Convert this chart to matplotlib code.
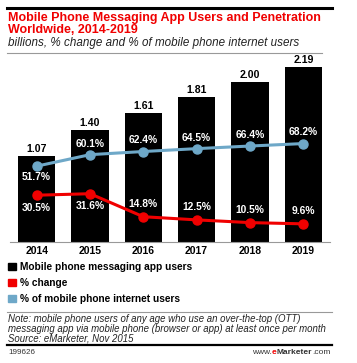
import matplotlib.pyplot as plt
from matplotlib.lines import Line2D

# chart data
years = ['2014', '2015', '2016', '2017', '2018', '2019']
users = [1.07, 1.40, 1.61, 1.81, 2.00, 2.19]          # billions
pct_change = [30.5, 31.6, 14.8, 12.5, 10.5, 9.6]      # % change
pct_internet = [51.7, 60.1, 62.4, 64.5, 66.4, 68.2]   # % of mobile phone internet users

red = '#f00000'
blue = '#6ea8c8'
W, H = 357, 363

plt.rcParams['font.family'] = ['Liberation Sans', 'DejaVu Sans']
fig = plt.figure(figsize=(W / 100, H / 100), dpi=100)


def fx(x):
    return x / W


def fy(y):
    return 1 - y / H


def hline(y, x0, x1, color, lw):
    fig.add_artist(Line2D([fx(x0), fx(x1)], [fy(y), fy(y)], color=color, lw=lw,
                          transform=fig.transFigure))


# header
hline(7.5, 7, 332, 'black', 2.2)
fig.text(fx(8), fy(18), 'Mobile Phone Messaging App Users and Penetration',
         color=red, fontsize=9.0, fontweight='bold', va='center')
fig.text(fx(8), fy(30), 'Worldwide, 2014-2019', color=red, fontsize=9.0,
         fontweight='bold', va='center')
fig.text(fx(8), fy(43), 'billions, % change and % of mobile phone internet users',
         color='#222222', fontsize=8.4, style='italic', va='center')
hline(52.5, 7, 322, '#999999', 0.8)

# axes: bottom at y=242 px, top at y=60 px
ax = fig.add_axes([fx(10), fy(242), fx(320), (242 - 60) / H])
x = range(len(years))
ax.bar(x, users, width=0.7, color='black', zorder=1)
ax.set_xlim(-0.5, 5.5)
ax.set_ylim(0, 182 / 80)
for i, v in enumerate(users):
    ax.annotate(f'{v:.2f}', (i, v), xytext=(0, 1.5), textcoords='offset points',
                ha='center', va='bottom', fontsize=7.6, fontweight='bold')
for s in ['top', 'right', 'left']:
    ax.spines[s].set_visible(False)
ax.spines['bottom'].set_color('#999999')
ax.spines['bottom'].set_linewidth(0.8)
ax.set_yticks([])
ax.set_xticks(list(x))
ax.set_xticklabels(years, fontsize=7.5, fontweight='bold')
ax.tick_params(axis='x', length=0, pad=3)

ax2 = ax.twinx()
ax2.set_ylim(-5 / 1.37, 177 / 1.37)
ax2.axis('off')
ax2.plot(x, pct_internet, color=blue, lw=2.2, marker='o', markersize=6.5, zorder=3)
ax2.plot(x, pct_change, color=red, lw=2.2, marker='o', markersize=6.5, zorder=3)
for i, v in enumerate(pct_internet):
    dy = -8 if i == 0 else 8
    ax2.annotate(f'{v}%', (i, v), xytext=(0, dy), textcoords='offset points',
                 ha='center', va='center', color='white', fontsize=7.4, fontweight='bold')
for i, v in enumerate(pct_change):
    dy = -9 if i < 2 else 9
    ax2.annotate(f'{v}%', (i, v), xytext=(0, dy), textcoords='offset points',
                 ha='center', va='center', color='white', fontsize=7.4, fontweight='bold')

# legend
legend_items = [('Mobile phone messaging app users', 'black'),
                ('% change', red),
                ('% of mobile phone internet users', blue)]
for k, (label, c) in enumerate(legend_items):
    yc = 266.5 + 16 * k
    fig.patches.append(plt.Rectangle((fx(8), fy(yc + 3.5)), fx(8), 7 / H, color=c,
                                     transform=fig.transFigure))
    fig.text(fx(20), fy(yc), label, fontsize=7.3, fontweight='bold', va='center')

# footer
hline(312, 7, 332, '#999999', 0.8)
note = ('Note: mobile phone users of any age who use an over-the-top (OTT)\n'
        'messaging app via mobile phone (browser or app) at least once per month\n'
        'Source: eMarketer, Nov 2015')
fig.text(fx(8), fy(314.5), note, fontsize=6.9, style='italic', va='top',
         color='#222222', linespacing=0.92)
hline(345, 7, 332, 'black', 1.6)
fig.text(fx(8), fy(352), '199626', fontsize=5.8, va='center', color='#333333')

# www.eMarketer.com, built right to left
xr = 331
for part, kw in [('.com', dict(color='#333333')),
                 ('Marketer', dict(color='#333333', fontweight='bold')),
                 ('e', dict(color=red, fontweight='bold')),
                 ('www.', dict(color='#333333'))]:
    t = fig.text(fx(xr), fy(352), part, fontsize=6.0, va='center', ha='right', **kw)
    fig.canvas.draw()
    xr = t.get_window_extent().x0 - 0.3

fig.savefig('out.png', dpi=100)
